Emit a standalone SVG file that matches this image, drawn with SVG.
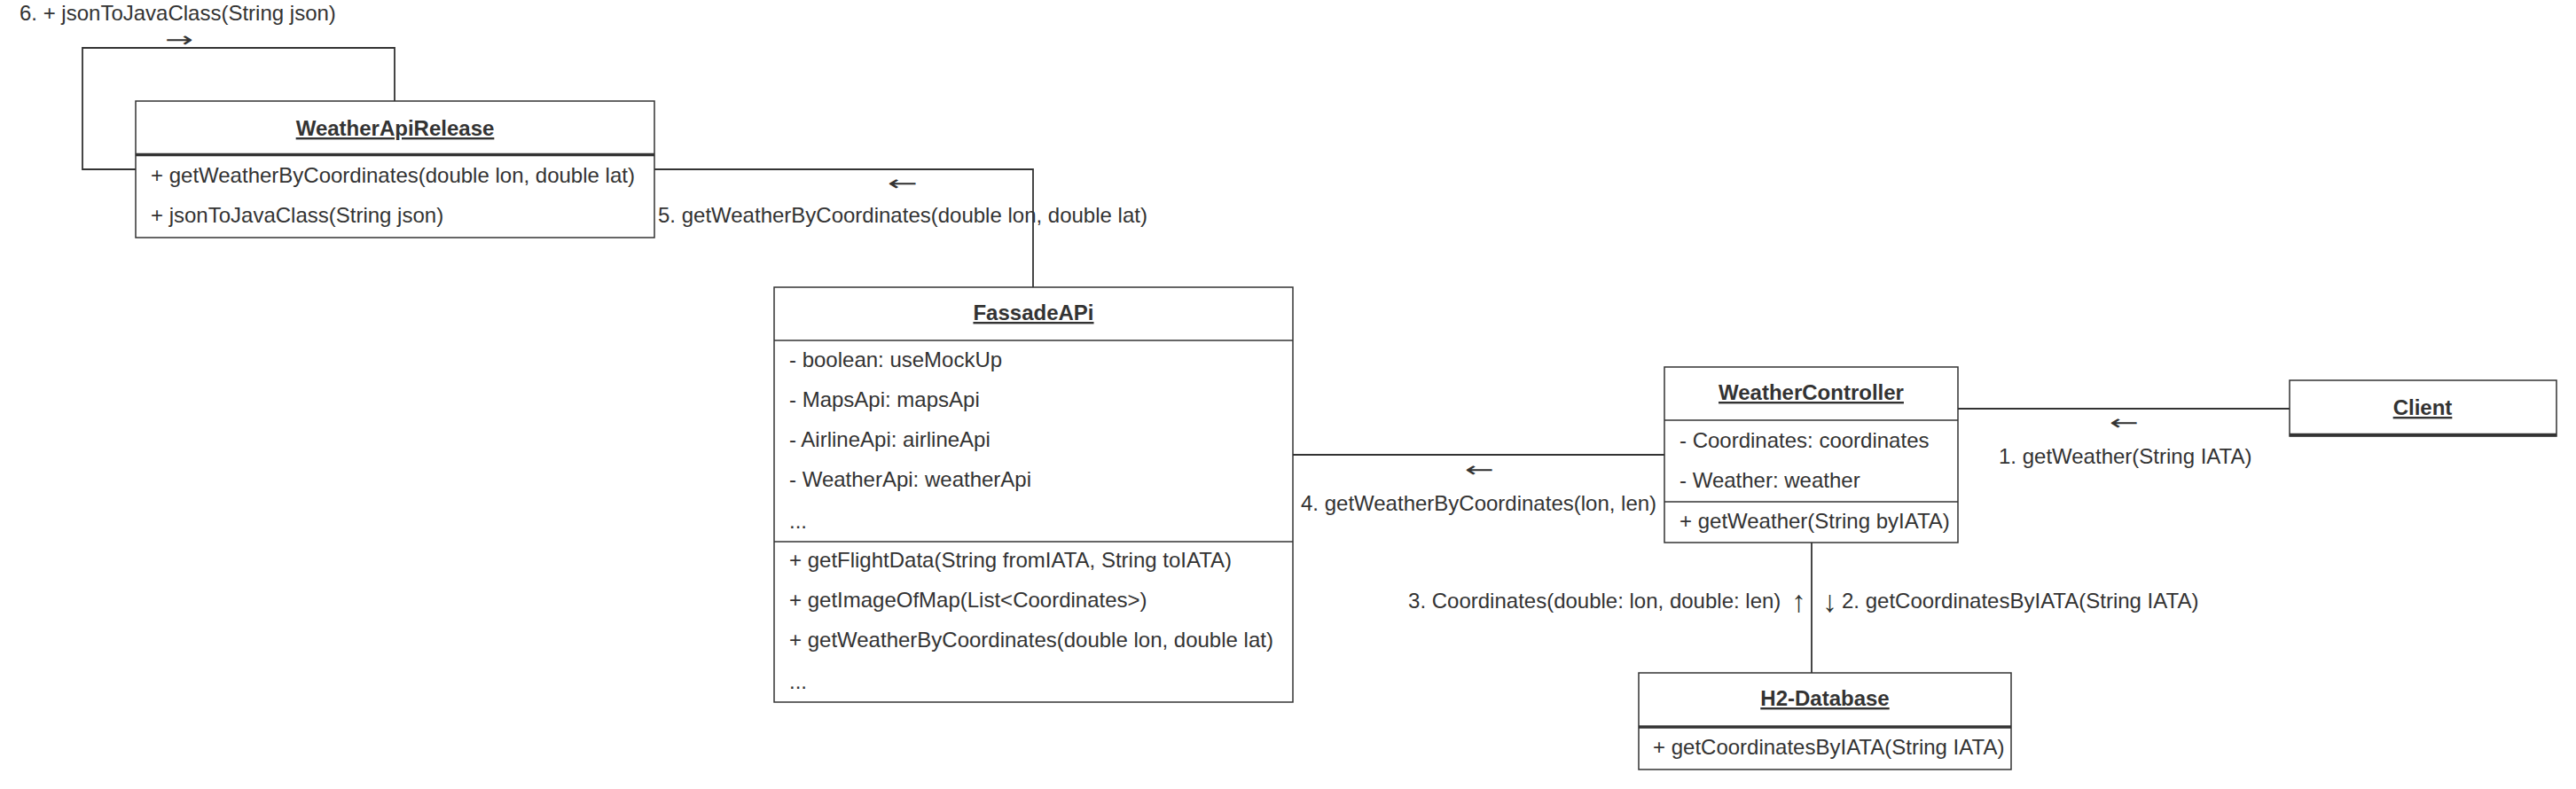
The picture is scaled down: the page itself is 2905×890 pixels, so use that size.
<svg xmlns="http://www.w3.org/2000/svg" width="2905" height="890" viewBox="0 0 2905 890">
<style>
text{font-family:"Liberation Sans",Arial,sans-serif;font-size:24px;fill:#333333}
.t{font-weight:bold;text-decoration:underline;text-anchor:middle}
.box{fill:#ffffff;stroke:#333333;stroke-width:1.5}
.sep{stroke:#333333;stroke-width:1.5;fill:none}
.thick{stroke:#333333;stroke-width:3.5;fill:none}
.con{stroke:#333333;stroke-width:1.8;fill:none}
.arr{font-family:"DejaVu Sans",sans-serif}
.varr{font-size:34px}
</style>
<rect width="2905" height="890" fill="#ffffff"/>
<g id="connectors">
<path class="con" d="M153,191 H93 V54 H445 V114"/>
<text class="arr" x="186" y="53" textLength="32" lengthAdjust="spacingAndGlyphs">→</text>
<text x="22" y="23">6. + jsonToJavaClass(String json)</text>
<path class="con" d="M738,191 H1165 V324"/>
<text class="arr" x="1001" y="215" textLength="34" lengthAdjust="spacingAndGlyphs">←</text>
<text x="742" y="251">5. getWeatherByCoordinates(double lon, double lat)</text>
<path class="con" d="M1458,513 H1877"/>
<text class="arr" x="1652" y="538" textLength="33" lengthAdjust="spacingAndGlyphs">←</text>
<text x="1467" y="576">4. getWeatherByCoordinates(lon, len)</text>
<path class="con" d="M2208,461 H2582"/>
<text class="arr" x="2379" y="485" textLength="33" lengthAdjust="spacingAndGlyphs">←</text>
<text x="2254" y="523">1. getWeather(String IATA)</text>
<path class="con" d="M2043,612 V759"/>
<text y="686"><tspan x="2015" text-anchor="end">3. Coordinates(double: lon, double: len) </tspan><tspan class="varr" x="2020" y="690">↑</tspan></text>
<text y="686"><tspan class="varr" x="2055" y="690">↓</tspan><tspan x="2077" y="686">2. getCoordinatesByIATA(String IATA)</tspan></text>
</g>
<g id="WeatherApiRelease">
<rect class="box" x="153" y="114" width="585" height="154"/>
<line class="thick" x1="153" y1="174.5" x2="738" y2="174.5"/>
<text class="t" x="445.5" y="153">WeatherApiRelease</text>
<text x="170" y="206">+ getWeatherByCoordinates(double lon, double lat)</text>
<text x="170" y="251">+ jsonToJavaClass(String json)</text>
</g>
<g id="FassadeAPi">
<rect class="box" x="873" y="324" width="585" height="468"/>
<line class="sep" x1="873" y1="384" x2="1458" y2="384"/>
<line class="sep" x1="873" y1="611" x2="1458" y2="611"/>
<text class="t" x="1165.5" y="361">FassadeAPi</text>
<text x="890" y="414">- boolean: useMockUp</text>
<text x="890" y="459">- MapsApi: mapsApi</text>
<text x="890" y="504">- AirlineApi: airlineApi</text>
<text x="890" y="549">- WeatherApi: weatherApi</text>
<text x="890" y="596">...</text>
<text x="890" y="640">+ getFlightData(String fromIATA, String toIATA)</text>
<text x="890" y="685">+ getImageOfMap(List&lt;Coordinates&gt;)</text>
<text x="890" y="730">+ getWeatherByCoordinates(double lon, double lat)</text>
<text x="890" y="777">...</text>
</g>
<g id="WeatherController">
<rect class="box" x="1877" y="414" width="331" height="198"/>
<line class="sep" x1="1877" y1="474" x2="2208" y2="474"/>
<line class="sep" x1="1877" y1="566" x2="2208" y2="566"/>
<text class="t" x="2042.5" y="451">WeatherController</text>
<text x="1894" y="505">- Coordinates: coordinates</text>
<text x="1894" y="550">- Weather: weather</text>
<text x="1894" y="596">+ getWeather(String byIATA)</text>
</g>
<g id="Client">
<rect class="box" x="2582" y="429" width="301" height="63"/>
<line class="thick" x1="2582" y1="490.5" x2="2883" y2="490.5"/>
<text class="t" x="2732" y="468">Client</text>
</g>
<g id="H2-Database">
<rect class="box" x="1848" y="759" width="420" height="109"/>
<line class="thick" x1="1848" y1="820" x2="2268" y2="820"/>
<text class="t" x="2058" y="796">H2-Database</text>
<text x="1864" y="851">+ getCoordinatesByIATA(String IATA)</text>
</g>
</svg>
